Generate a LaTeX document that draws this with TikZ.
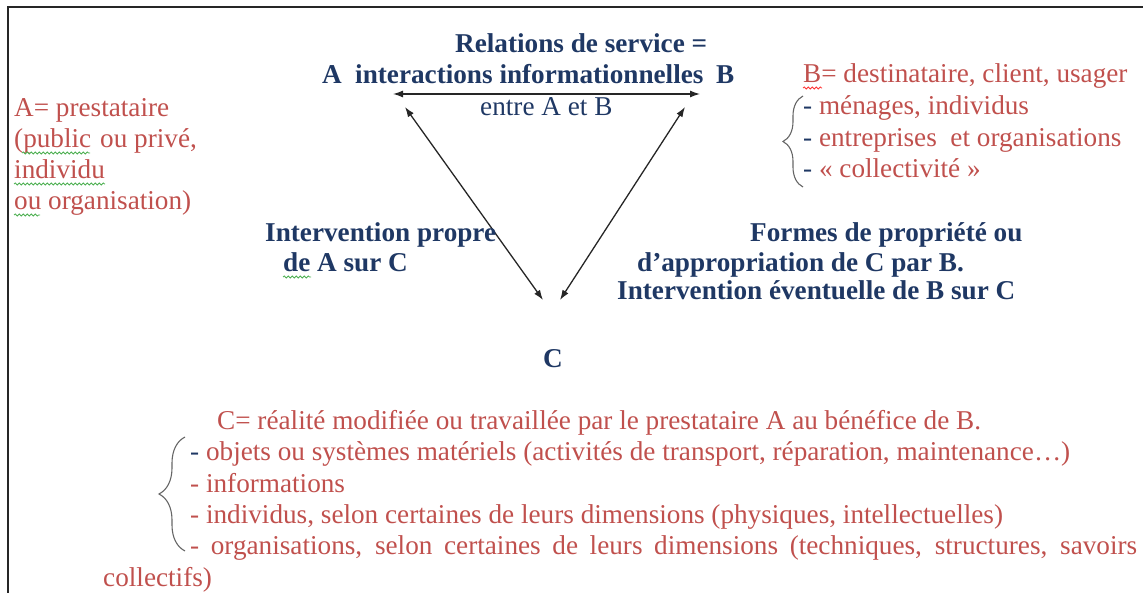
\documentclass[tikz,border=0pt]{standalone}
\usepackage{fontspec}
\setmainfont{Liberation Serif}
\usetikzlibrary{arrows.meta,decorations.pathreplacing,decorations.pathmorphing}
\definecolor{txtred}{HTML}{C0504D}
\definecolor{navy}{HTML}{1F3864}
\definecolor{spell}{HTML}{4CAF50}
\tikzset{
  basetxt/.style={inner sep=0pt, anchor=base west, font=\fontsize{27.2}{31}\selectfont},
  redtxt/.style={basetxt, text=txtred},
  bluetxt/.style={basetxt, text=navy},
  bluebold/.style={basetxt, text=navy, font=\fontsize{27.2}{31}\selectfont\bfseries},
  link/.style={draw=black!85, line width=1.3pt, {Latex[length=10pt,width=7pt]}-{Latex[length=10pt,width=7pt]}},
  bracestyle/.style={draw=black!60, line width=1.1pt, decorate, decoration={brace, amplitude=#1}},
  spellline/.style={draw=spell, line width=0.8pt, decorate, decoration={snake, segment length=4pt, amplitude=1pt}},
  spellred/.style={spellline, draw=red!80},
}
\begin{document}
\begin{tikzpicture}[x=1pt,y=-1pt]
\useasboundingbox (0,0) rectangle (1143,593);
\draw[line width=2pt, black!85] (8,593) -- (8,7) -- (1143,7);

% top
\node[bluebold] (rel) at (455,53) {Relations de service =};
\node[bluebold] (A) at (322,84) {A};
\node[bluebold] (inter) at (355,84) {interactions informationnelles};
\node[bluebold] (B) at (716,84) {B};
\node[bluetxt] (entre) at (480,116) {entre A et B};

\coordinate (pA) at (393,94);
\coordinate (pB) at (700,94);
\coordinate (qA) at (405,107);
\coordinate (qB) at (685,107);
\coordinate (cL) at (543,300);
\coordinate (cR) at (560,300);
\draw[link] (pA) -- (pB);
\draw[link] (qA) -- (cL);
\draw[link] (qB) -- (cR);

\node[bluebold] (C) at (543,367) {C};

% left
\node[redtxt] (a1) at (14,117) {A= prestataire};
\node[redtxt] (a2) at (14,148) {(public\hspace{9pt}ou privé,};
\node[redtxt] (a3) at (14,179) {individu};
\node[redtxt] (a4) at (14,210) {ou organisation)};
\draw[spellline] (22,153) -- (90,153);
\draw[spellline] (14,184) -- (105,184);
\draw[spellline] (14,215) -- (40,215);

% right
\node[redtxt] (b0) at (803,83) {B= destinataire, client, usager};
\node[redtxt] (b1) at (803,115) {\textcolor{navy}{-} ménages, individus};
\node[redtxt] (b2) at (803,147) {\textcolor{navy}{-} entreprises\ \ et organisations};
\node[redtxt] (b3) at (803,178) {\textcolor{navy}{-} « collectivité »};
\draw[bracestyle=20pt] (803,187) -- (803,96);
\draw[spellred] (803,88) -- (822,88);

% middle
\node[bluebold] (i1) at (265,242) {Intervention propre};
\node[bluebold] (i2) at (283,272) {de A sur C};
\draw[spellline] (283,277) -- (311,277);
\node[bluebold] (f1) at (750,242) {Formes de propriété ou};
\node[bluebold] (f2) at (637,272) {d’appropriation\ de C par B.};
\node[bluebold] (f3) at (617,300) {Intervention éventuelle de B sur C};

% bottom
\node[redtxt] (c0) at (217,429) {C= réalité modifiée ou travaillée par le prestataire A au bénéfice de B.};
\node[redtxt] (c1) at (190,460) {\textcolor{navy}{-} objets ou systèmes matériels (activités\ de transport, réparation, maintenance…)};
\node[redtxt] (c2) at (190,492) {- informations};
\node[redtxt] (c3) at (190,523) {- individus, selon certaines de leurs dimensions (physiques, intellectuelles)};
\node[redtxt] (c4) at (190,554) {\makebox[947pt][s]{- organisations, selon certaines de leurs dimensions (techniques, structures, savoirs}};
\node[redtxt] (c5) at (103,586) {collectifs)};
\draw[bracestyle=26pt] (185,551) -- (185,437);
\end{tikzpicture}
\end{document}
